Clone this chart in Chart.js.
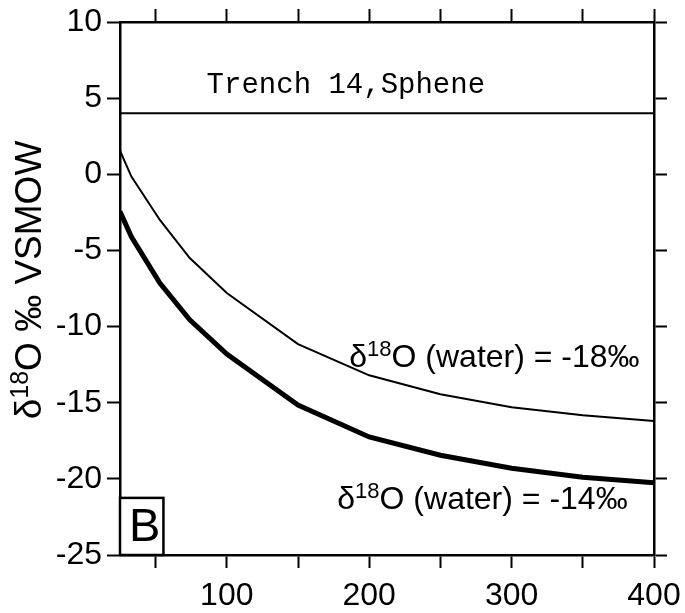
<!DOCTYPE html>
<html>
<head>
<meta charset="utf-8">
<script src="https://cdn.jsdelivr.net/npm/chart.js@4.4.1/dist/chart.umd.min.js"></script>
<style>
  html, body { margin: 0; padding: 0; background: #fff; }
  #wrap { width: 685px; height: 613px; }
</style>
</head>
<body>
<div id="wrap"><canvas id="chart" width="685" height="613"></canvas></div>
<script>
// --- DATA ---
const temps = [25, 33, 53, 74, 100, 150, 200, 250, 300, 350, 400];
const waterMinus18 = [1.55, -0.15, -3.0, -5.5, -7.8, -11.15, -13.2, -14.45, -15.3, -15.82, -16.2];
const waterMinus14 = [-2.45, -4.1, -7.15, -9.55, -11.8, -15.15, -17.25, -18.45, -19.3, -19.9, -20.25];
const spheneX = [25, 400];
const spheneY = [4.0, 4.0];

const xTicks = [50, 100, 150, 200, 250, 300, 350, 400];
const yTicks = [-25, -20, -15, -10, -5, 0, 5, 10];
const xMin = 25, xMax = 400, yMin = -25, yMax = 10;

const FONT = '"Liberation Sans", Arial, sans-serif';

function pts(xs, ys) {
    return xs.map((x, i) => ({ x: x, y: ys[i] }));
}

// fixed axis sizes so the plot box sits where the reference has it
function fixWidth(w) { return scale => { scale.width = w; scale.paddingTop = 0; scale.paddingBottom = 0; }; }
function fixHeight(h) { return scale => { scale.height = h; scale.paddingLeft = 0; scale.paddingRight = 0; }; }

function axisBase() {
    return {
        grid: { drawOnChartArea: false, drawTicks: true, tickLength: 13, tickWidth: 2, tickColor: '#000' },
        border: { display: true, color: '#000', width: 2.5 }
    };
}

// --- annotations drawn in data coordinates ---
const textPlugin = {
    id: 'texts',
    afterDraw(chart) {
        const ctx = chart.ctx;
        const xs = chart.scales.x, ys = chart.scales.y;
        const px = v => xs.getPixelForValue(v);
        const py = v => ys.getPixelForValue(v);
        ctx.save();
        ctx.fillStyle = '#000';

        // sample name
        ctx.font = '29px "Courier New", "Liberation Mono", monospace';
        ctx.textAlign = 'center';
        ctx.textBaseline = 'alphabetic';
        ctx.fillText('Trench 14,Sphene', px(183.6), py(5.34));

        // curve labels with superscript
        function label(x, y, tail) {
            let cx = x;
            ctx.textAlign = 'left';
            ctx.font = '32px ' + FONT;
            ctx.fillText('\u03b4', cx, y);
            cx += ctx.measureText('\u03b4').width;
            ctx.font = '22px ' + FONT;
            ctx.fillText('18', cx, y - 11);
            cx += ctx.measureText('18').width;
            ctx.font = '32px ' + FONT;
            ctx.fillText(tail, cx, y);
        }
        label(px(186), py(-12.65), 'O (water) = -18\u2030');
        label(px(177.6), py(-22.0), 'O (water) = -14\u2030');

        // panel letter box
        const bx0 = px(25), bx1 = px(55.5), by0 = py(-21.25), by1 = py(-25);
        ctx.lineWidth = 2.5;
        ctx.strokeStyle = '#000';
        ctx.fillStyle = '#fff';
        ctx.fillRect(bx0, by0, bx1 - bx0, by1 - by0);
        ctx.strokeRect(bx0, by0, bx1 - bx0, by1 - by0);
        ctx.fillStyle = '#000';
        ctx.font = '47px ' + FONT;
        ctx.textAlign = 'center';
        ctx.fillText('B', (bx0 + bx1) / 2 + 3, by1 - 14);

        // y axis title, rotated
        ctx.translate(41, 280);
        ctx.rotate(-Math.PI / 2);
        const parts = [['\u03b4', 37, 0], ['18', 25, -13], ['O \u2030 VSMOW', 37, 0]];
        let total = 0;
        parts.forEach(p => { ctx.font = p[1] + 'px ' + FONT; total += ctx.measureText(p[0]).width; });
        let cx = -total / 2;
        ctx.textAlign = 'left';
        parts.forEach(p => {
            ctx.font = p[1] + 'px ' + FONT;
            ctx.fillText(p[0], cx, p[2]);
            cx += ctx.measureText(p[0]).width;
        });
        ctx.restore();
    }
};

const ctx = document.getElementById('chart').getContext('2d');
const chart = new Chart(ctx, {
    type: 'line',
    data: {
        datasets: [
            { label: 'Sphene', data: pts(spheneX, spheneY), borderColor: '#000', borderWidth: 2, pointRadius: 0, tension: 0 },
            { label: '-18', data: pts(temps, waterMinus18), borderColor: '#000', borderWidth: 2, pointRadius: 0, tension: 0 },
            { label: '-14', data: pts(temps, waterMinus14), borderColor: '#000', borderWidth: 5, pointRadius: 0, tension: 0 }
        ]
    },
    options: {
        responsive: false,
        animation: false,
        devicePixelRatio: 1,
        layout: { padding: 0 },
        plugins: { legend: { display: false }, tooltip: { enabled: false } },
        scales: {
            x: Object.assign(axisBase(), {
                type: 'linear', position: 'bottom', min: xMin, max: xMax,
                afterBuildTicks: s => { s.ticks = xTicks.map(v => ({ value: v })); },
                afterFit: fixHeight(58),
                ticks: { color: '#000', padding: 9, maxRotation: 0, autoSkip: false,
                         font: { family: FONT, size: 32 },
                         callback: v => (v % 100 === 0 ? String(v) : '') }
            }),
            x2: Object.assign(axisBase(), {
                type: 'linear', position: 'top', min: xMin, max: xMax,
                afterBuildTicks: s => { s.ticks = xTicks.map(v => ({ value: v })); },
                afterFit: fixHeight(22),
                ticks: { autoSkip: false, callback: () => '' }
            }),
            y: Object.assign(axisBase(), {
                type: 'linear', position: 'left', min: yMin, max: yMax,
                afterBuildTicks: s => { s.ticks = yTicks.map(v => ({ value: v })); },
                afterFit: fixWidth(120),
                ticks: { color: '#000', padding: 5, autoSkip: false,
                         font: { family: FONT, size: 32 } }
            }),
            y2: Object.assign(axisBase(), {
                type: 'linear', position: 'right', min: yMin, max: yMax,
                afterBuildTicks: s => { s.ticks = yTicks.map(v => ({ value: v })); },
                afterFit: fixWidth(31),
                ticks: { autoSkip: false, callback: () => '' }
            })
        }
    },
    plugins: [textPlugin]
});
</script>
</body>
</html>
